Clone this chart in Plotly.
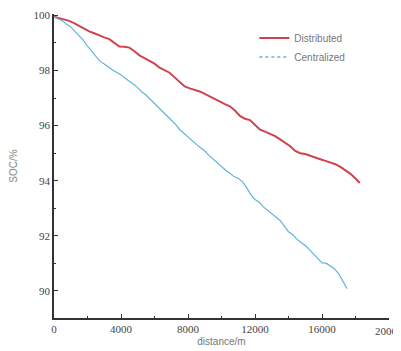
import plotly.graph_objects as go

dist_x = [0, 300, 600, 900, 1200, 1500, 1800, 2100, 2400, 2700, 3000, 3300, 3600, 3900,
          4200, 4500, 4800, 5100, 5400, 5700, 6000, 6300, 6600, 6900, 7200, 7500, 7800,
          8100, 8400, 8700, 9000, 9300, 9600, 9900, 10200, 10500, 10800, 11100, 11400,
          11700, 12000, 12300, 12600, 12900, 13200, 13500, 13800, 14100, 14400, 14700,
          15000, 15300, 15600, 15900, 16200, 16500, 16800, 17100, 17400, 17700, 18000, 18250]
dist_soc = [99.95, 99.9, 99.85, 99.8, 99.72, 99.62, 99.5, 99.42, 99.35, 99.27, 99.2, 99.14,
            99.0, 98.87, 98.86, 98.83, 98.7, 98.55, 98.45, 98.35, 98.25, 98.1, 98.0, 97.92,
            97.75, 97.6, 97.42, 97.35, 97.3, 97.24, 97.15, 97.05, 96.95, 96.87, 96.78, 96.7,
            96.55, 96.35, 96.25, 96.2, 96.04, 95.85, 95.78, 95.7, 95.62, 95.5, 95.38, 95.25,
            95.08, 95.0, 94.97, 94.9, 94.83, 94.78, 94.72, 94.66, 94.6, 94.5, 94.38, 94.25,
            94.08, 93.92]

cent_x = [0, 250, 500, 750, 1000, 1250, 1500, 1750, 2000, 2250, 2500, 2750, 3000, 3250,
          3500, 3750, 4000, 4250, 4500, 4750, 5000, 5250, 5500, 5750, 6000, 6250, 6500,
          6750, 7000, 7250, 7500, 7750, 8000, 8250, 8500, 8750, 9000, 9250, 9500, 9750,
          10000, 10250, 10500, 10750, 11000, 11250, 11500, 11750, 12000, 12250, 12500,
          12750, 13000, 13250, 13500, 13750, 14000, 14250, 14500, 14750, 15000, 15250,
          15500, 15750, 16000, 16250, 16500, 16750, 17000, 17250, 17500]
cent_soc = [99.95, 99.88, 99.80, 99.68, 99.58, 99.42, 99.27, 99.10, 98.88, 98.70, 98.52,
            98.33, 98.24, 98.12, 98.02, 97.93, 97.85, 97.72, 97.62, 97.50, 97.38, 97.22,
            97.10, 96.95, 96.80, 96.65, 96.50, 96.33, 96.18, 96.05, 95.86, 95.72, 95.60,
            95.45, 95.32, 95.20, 95.08, 94.92, 94.78, 94.65, 94.52, 94.38, 94.27, 94.15,
            94.08, 93.97, 93.75, 93.50, 93.32, 93.22, 93.05, 92.93, 92.82, 92.70, 92.56,
            92.35, 92.15, 92.05, 91.88, 91.76, 91.65, 91.50, 91.33, 91.15, 91.02, 91.01,
            90.92, 90.80, 90.62, 90.35, 90.08]

x_ticks = [0, 4000, 8000, 12000, 16000, 20000]
y_ticks = [90, 92, 94, 96, 98, 100]

RED = "#d0424e"
BLUE = "#5db6d6"

fig = go.Figure()
fig.add_trace(go.Scatter(x=dist_x, y=dist_soc, mode="lines", name="Distributed",
                         line=dict(color=RED, width=2)))
fig.add_trace(go.Scatter(x=cent_x, y=cent_soc, mode="lines", name="Centralized",
                         showlegend=False, line=dict(color=BLUE, width=1.2)))
# legend entry (dotted sample as in the reference legend)
fig.add_trace(go.Scatter(x=[None], y=[None], mode="lines", name="Centralized",
                         line=dict(color=BLUE, width=1.5, dash="dot")))

axis_common = dict(showgrid=False, zeroline=False, showline=True, linecolor="#333333",
                   linewidth=1.5, ticks="inside", ticklen=4, tickcolor="#333333",
                   automargin=False,
                   tickfont=dict(family="Liberation Serif", size=11, color="#444444"))

fig.update_xaxes(range=[0, 20000], tickvals=x_ticks[:-1], ticktext=[str(v) for v in x_ticks[:-1]],
                 minor=dict(ticks="inside", ticklen=2, dtick=2000, tickcolor="#333333"),
                 title=dict(text="distance/m", font=dict(family="Liberation Sans", size=10,
                                                         color="#777777"), standoff=4),
                 **axis_common)
fig.update_yaxes(range=[89.02, 100.05], tickvals=y_ticks, ticktext=[str(v) for v in y_ticks],
                 minor=dict(ticks="inside", ticklen=2, dtick=1, tickcolor="#333333"),
                 title=dict(text="SOC/%", font=dict(family="Liberation Sans", size=10,
                                                    color="#888888"), standoff=15),
                 **axis_common)

# last x tick label sits at the edge and is clipped by the page, as in the reference
fig.add_annotation(x=x_ticks[-1], y=0, xref="x", yref="paper", yanchor="top", yshift=-5,
                   text=str(x_ticks[-1]), showarrow=False,
                   font=dict(family="Liberation Serif", size=11, color="#444444"))

# the page body has an 8px margin, so the figure is sized to fill the 401x351 window
fig.update_layout(
    width=393, height=343,
    margin=dict(l=46, r=12, t=6, b=33),
    paper_bgcolor="white", plot_bgcolor="white",
    showlegend=True,
    legend=dict(x=0.598, y=0.969, xanchor="left", yanchor="top",
                bgcolor="rgba(0,0,0,0)",
                font=dict(family="Liberation Sans", size=10, color="#777777"),
                itemwidth=30, tracegroupgap=0),
)

fig.write_html("out.html")
